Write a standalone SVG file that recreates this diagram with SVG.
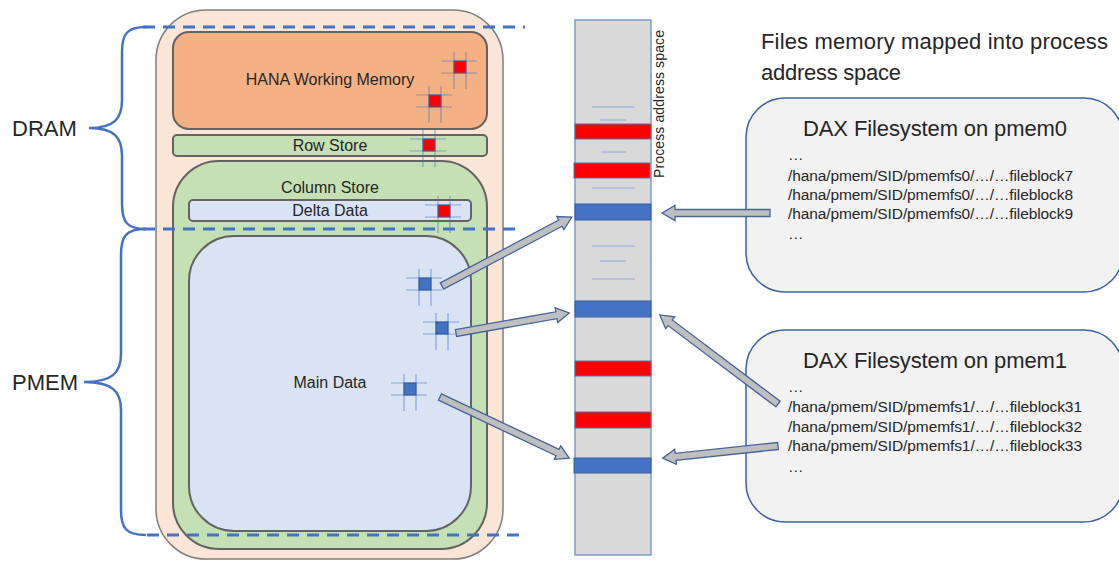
<svg xmlns="http://www.w3.org/2000/svg" width="1119" height="562" viewBox="0 0 1119 562">
<style>
  text { font-family: "Liberation Sans", Arial, sans-serif; fill: #262626; }
  .box { stroke: #636363; stroke-width: 2; }
  .lbl { font-size: 16px; text-anchor: middle; }
  .brace { fill: none; stroke: #4472C4; stroke-width: 2.5; }
  .dash { stroke: #4472C4; stroke-width: 3; stroke-dasharray: 12 8; fill: none; }
  .band-r { fill: #FF0000; stroke: #5B739F; stroke-width: 1; }
  .band-b { fill: #4472C4; stroke: #3A5F9E; stroke-width: 1; }
  .thin { stroke: #8FAADC; stroke-width: 1; }
  .arrow { fill: #BFBFBF; stroke: #46659A; stroke-width: 1.3; stroke-linejoin: miter; }
  .dax { fill: #F2F2F2; stroke: #3D62A3; stroke-width: 1.5; }
  .daxt { font-size: 22px; }
  .path { font-size: 15.5px; }
  .xh { stroke: #4472C4; stroke-opacity: 0.55; stroke-width: 1.2; }
</style>
<defs>
  <g id="cross">
    <line class="xh" x1="-13" y1="0" x2="23" y2="0"/>
    <line class="xh" x1="-13" y1="12" x2="23" y2="12"/>
    <line class="xh" x1="0" y1="-9" x2="0" y2="28"/>
    <line class="xh" x1="12" y1="-9" x2="12" y2="28"/>
  </g>
  <g id="sqr">
    <use href="#cross"/>
    <rect x="0" y="0" width="12" height="12" fill="#FF0000" stroke="#3A5F9E" stroke-width="1"/>
  </g>
  <g id="sqb">
    <use href="#cross"/>
    <rect x="0" y="0" width="12" height="12" fill="#4472C4" stroke="#2F5597" stroke-width="1"/>
  </g>
</defs>

<g id="memory-labels">
  <text x="12" y="136" font-size="22">DRAM</text>
  <text x="12" y="390" font-size="22">PMEM</text>
</g>

<g id="braces">
  <path class="brace" d="M146,27 C127,27 122,34 122,52 L122,100 C122,119 114,128 89,128 C114,128 122,137 122,156 L122,204 C122,222 127,229 146,229"/>
  <path class="brace" d="M146,229 C126,229 121,236 121,255 L121,354 C121,373 112,382 84,382 C112,382 121,391 121,410 L121,510 C121,528 126,535 146,535"/>
</g>

<g id="outer">
  <rect x="156" y="10" width="347" height="549" rx="50" fill="#FBE5D6" stroke="#7F7F7F" stroke-width="1.5"/>
</g>

<g id="hana-working-memory">
  <rect class="box" x="173" y="32" width="314" height="97" rx="16" fill="#F4B183"/>
  <text class="lbl" x="330" y="85">HANA Working Memory</text>
</g>

<g id="row-store">
  <rect class="box" x="173" y="135" width="314" height="21" rx="4" fill="#C5E0B4"/>
  <text class="lbl" x="330" y="151">Row Store</text>
</g>

<g id="column-store">
  <rect class="box" x="173" y="161" width="314" height="388" rx="46" fill="#C5E0B4"/>
  <text class="lbl" x="330" y="193">Column Store</text>
</g>

<g id="delta-data">
  <rect class="box" x="189" y="200" width="282" height="21" rx="4" fill="#DAE3F3"/>
  <text class="lbl" x="330" y="216">Delta Data</text>
</g>

<g id="main-data">
  <rect class="box" x="189" y="236" width="282" height="295" rx="45" fill="#DAE3F3"/>
  <text class="lbl" x="330" y="388">Main Data</text>
</g>

<g id="dashes">
  <line class="dash" x1="143" y1="27" x2="525" y2="27"/>
  <line class="dash" x1="143" y1="229" x2="520" y2="229"/>
  <line class="dash" x1="147" y1="535" x2="520" y2="535"/>
</g>

<g id="pages">
  <use href="#sqr" x="454" y="61"/>
  <use href="#sqr" x="429" y="95"/>
  <use href="#sqr" x="423" y="139"/>
  <use href="#sqr" x="438" y="205"/>
  <use href="#sqb" x="419" y="278"/>
  <use href="#sqb" x="436" y="322"/>
  <use href="#sqb" x="404" y="383"/>
</g>

<g id="process-address-space">
  <rect x="575" y="20" width="76" height="535" fill="#D9D9D9" stroke="#7F9CC9" stroke-width="1.5"/>
  <line class="thin" x1="592" y1="107" x2="635" y2="107"/>
  <line class="thin" x1="600" y1="120" x2="626" y2="120"/>
  <line class="thin" x1="601" y1="152" x2="626" y2="152"/>
  <line class="thin" x1="592" y1="188" x2="635" y2="188"/>
  <line class="thin" x1="592" y1="246" x2="635" y2="246"/>
  <line class="thin" x1="600" y1="261" x2="626" y2="261"/>
  <line class="thin" x1="592" y1="279" x2="635" y2="279"/>
  <rect class="band-r" x="575" y="124" width="76" height="15"/>
  <rect class="band-r" x="574" y="163" width="76" height="15"/>
  <rect class="band-b" x="575" y="204" width="76" height="16"/>
  <rect class="band-b" x="575" y="301" width="76" height="16"/>
  <rect class="band-r" x="575" y="361" width="76" height="15"/>
  <rect class="band-r" x="575" y="412" width="76" height="16"/>
  <rect class="band-b" x="574" y="458" width="77" height="15"/>
  <text transform="translate(664,104) rotate(-90)" x="0" y="0" font-size="14" text-anchor="middle" textLength="148">Process address space</text>
</g>

<g id="title">
  <text x="761" y="49" font-size="22" textLength="347">Files memory mapped into process</text>
  <text x="761" y="80" font-size="22" textLength="140">address space</text>
</g>

<g id="dax-pmem0">
  <rect class="dax" x="746" y="98" width="377" height="194" rx="39"/>
  <text class="daxt" x="803" y="136" textLength="264">DAX Filesystem on pmem0</text>
  <text class="path" x="788" y="160">…</text>
  <text class="path" x="788" y="181" textLength="285">/hana/pmem/SID/pmemfs0/…/…fileblock7</text>
  <text class="path" x="788" y="200" textLength="285">/hana/pmem/SID/pmemfs0/…/…fileblock8</text>
  <text class="path" x="788" y="219" textLength="285">/hana/pmem/SID/pmemfs0/…/…fileblock9</text>
  <text class="path" x="788" y="239">…</text>
</g>

<g id="dax-pmem1">
  <rect class="dax" x="746" y="330" width="377" height="192" rx="39"/>
  <text class="daxt" x="803" y="368" textLength="264">DAX Filesystem on pmem1</text>
  <text class="path" x="788" y="392">…</text>
  <text class="path" x="788" y="412" textLength="294">/hana/pmem/SID/pmemfs1/…/…fileblock31</text>
  <text class="path" x="788" y="432" textLength="294">/hana/pmem/SID/pmemfs1/…/…fileblock32</text>
  <text class="path" x="788" y="451" textLength="294">/hana/pmem/SID/pmemfs1/…/…fileblock33</text>
  <text class="path" x="788" y="472">…</text>
</g>

<g id="connectors">
  <path class="arrow" transform="translate(442,286) rotate(-27.96)" d="M0,-3.5H134V-7.5L147,0L134,7.5V3.5H0Z"/>
  <path class="arrow" transform="translate(456,333) rotate(-10.04)" d="M0,-3.5H102V-7.5L115,0L102,7.5V3.5H0Z"/>
  <path class="arrow" transform="translate(440,397) rotate(25.3)" d="M0,-3.5H130V-7.5L143,0L130,7.5V3.5H0Z"/>
  <path class="arrow" transform="translate(770,213) rotate(180)" d="M0,-3.5H95V-7.5L108,0L95,7.5V3.5H0Z"/>
  <path class="arrow" transform="translate(778,404) rotate(-143)" d="M0,-3.5H135V-7.5L148,0L135,7.5V3.5H0Z"/>
  <path class="arrow" transform="translate(778,446) rotate(174)" d="M0,-3.5H103V-7.5L116,0L103,7.5V3.5H0Z"/>
</g>
</svg>
